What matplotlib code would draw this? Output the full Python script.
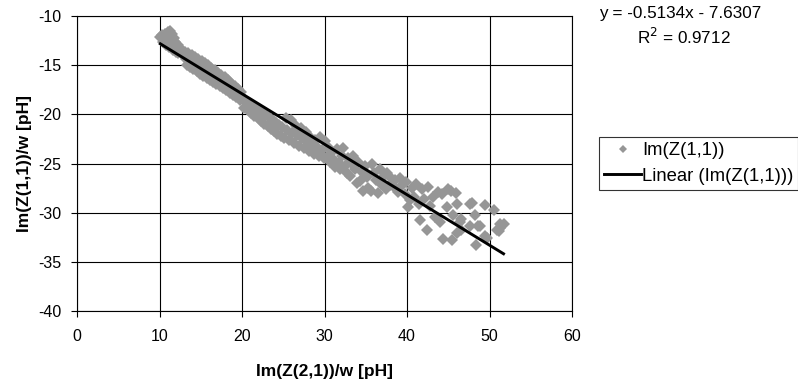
import matplotlib.pyplot as plt
from matplotlib.lines import Line2D
import numpy as np

plt.rcParams['font.family'] = ['Liberation Sans', 'DejaVu Sans']
plt.rcParams['axes.unicode_minus'] = False

# Im(Z(2,1))/w and Im(Z(1,1))/w
x = [10.1, 10.3, 10.4, 10.6, 10.7, 10.8, 10.9, 11.0, 11.1, 11.2, 11.3, 11.4, 11.5, 11.6, 11.7, 11.8, 11.9,
     12.0, 12.2, 12.3, 12.5, 12.7, 12.9,
     13.1, 13.3, 13.5, 13.7, 13.9, 14.1, 14.3, 14.5, 14.7, 14.9, 15.1, 15.3, 15.5, 15.7, 15.9, 16.1, 16.3,
     16.5, 16.7, 16.9, 17.1, 17.3, 17.5, 17.7, 17.9, 18.1, 18.3, 18.5, 18.7, 18.9, 19.1, 19.3, 19.5, 19.7, 19.9,
     13.2, 14.0, 14.8, 15.6, 16.4, 17.2, 18.0, 18.8, 19.6,
     20.1, 20.3, 20.5, 20.7, 20.9, 21.1, 21.3, 21.5, 21.7, 21.9, 22.1, 22.3, 22.5, 22.7, 22.9, 23.1, 23.3,
     23.5, 23.7, 23.9, 24.1, 24.3, 24.5, 24.7, 24.9, 25.1, 25.3, 25.5, 25.7, 25.9, 26.1, 26.3, 26.5, 26.7,
     26.9, 27.1, 27.3, 27.5, 27.7, 27.9, 28.1, 28.3, 28.5, 28.7, 28.9, 29.1, 29.3, 29.5, 29.7, 29.9,
     30.1, 30.3, 30.5, 30.7, 30.9, 31.1, 31.3, 31.5, 31.7, 31.9, 32.1, 32.3, 32.5, 32.7, 32.9, 33.1, 33.3,
     33.5, 33.7, 33.9, 34.1, 34.3, 34.5, 34.7, 34.9, 35.1, 35.3, 35.6, 35.8, 36.0, 36.2, 36.5, 36.7, 36.9,
     37.2, 37.4, 37.6, 37.9, 38.1, 38.4, 38.6, 38.9, 39.1, 39.4, 39.7, 39.9,
     40.1, 40.4, 40.6, 40.9, 41.1, 41.4, 41.6, 41.8, 42.1, 42.4, 42.5, 42.8, 43.1, 43.4, 43.8, 44.0, 44.3,
     44.4, 44.8, 45.0, 45.3, 45.4, 45.6, 45.9, 46.1, 46.4, 46.6, 46.1, 46.6, 47.6, 47.9, 47.6, 48.2, 48.4,
     48.6, 48.8, 49.5, 49.5, 49.7, 50.5, 50.9, 51.1, 51.3, 51.7, 51.3]
y = [-12.1, -11.9, -12.6, -12.3, -11.8, -12.9, -12.2, -11.6, -13.1, -12.4, -11.5, -12.8, -11.8, -13.4, -12.2,
     -13.0, -12.6, -13.6, -12.9, -13.8, -13.3, -13.9, -13.5,
     -13.6, -15.0, -13.8, -15.2, -14.0, -15.4, -14.2, -15.6, -14.4, -15.9, -14.6, -16.1, -14.8, -16.3, -15.0,
     -16.5, -15.3, -16.7, -15.5, -16.9, -15.8, -17.1, -16.0, -17.3, -16.2, -17.5, -16.5, -17.8, -16.8, -18.0,
     -17.1, -18.2, -17.4, -18.5, -17.7,
     -14.4, -14.8, -15.2, -15.6, -16.1, -16.5, -16.9, -17.4, -18.0,
     -18.3, -19.3, -18.7, -19.6, -18.9, -19.9, -19.2, -20.2, -19.3, -20.4, -19.6, -20.7, -19.9, -21.0, -20.1,
     -21.2, -20.3, -21.5, -20.6, -21.7, -20.9, -22.0, -21.1, -22.2, -21.3, -22.4, -20.4, -21.6, -22.6, -20.6,
     -21.9, -22.9, -21.2, -22.1, -23.2, -21.4, -22.4, -23.4, -21.8, -22.7, -23.7, -22.3, -23.0, -24.0, -22.6,
     -23.3, -24.2, -22.3, -23.6, -24.4,
     -22.7, -24.3, -23.4, -24.8, -23.8, -24.6, -25.3, -23.5, -24.9, -25.6, -24.2, -23.4, -25.2, -26.0, -24.4,
     -26.3, -25.0, -24.2, -25.6, -27.0, -24.8, -26.8, -25.9, -27.8, -25.2, -26.4, -27.5, -27.8, -25.0, -26.0,
     -26.7, -28.0, -25.6, -27.1, -26.3, -27.6, -26.0, -27.2, -26.5, -27.4, -26.7, -27.9, -26.5, -27.2, -28.1,
     -26.9,
     -29.4, -28.7, -27.5, -28.4, -27.1, -29.1, -30.7, -27.6, -28.6, -31.8, -27.4, -29.3, -28.4, -30.4, -27.9,
     -30.9, -28.1, -32.7, -29.4, -27.6, -27.8, -32.8, -30.2, -28.0, -29.1, -30.9, -30.6, -32.1, -31.8, -29.1,
     -29.0, -31.4, -30.2, -33.3, -31.4, -31.3, -29.2, -32.4, -32.6, -29.7, -31.8, -31.9, -31.1, -31.1, -31.6]

# linear trendline as reported on the chart
slope = -0.5134
intercept = -7.6307
r2 = 0.9712

fig = plt.figure(figsize=(7.98, 3.84), dpi=100)
ax = fig.add_axes([0.0965, 0.19, 0.6203, 0.768])

ax.grid(True, color='black', linewidth=0.8)
ax.set_axisbelow(True)
ax.plot(x, y, linestyle='none', marker='D', markersize=6.2, color='#969696', markeredgewidth=0)
xl = np.array([min(x), max(x)])
ax.plot(xl, slope * xl + intercept, color='black', linewidth=2.1)

ax.set_xlim(0, 60)
ax.set_ylim(-40, -10)
ax.set_xticks(range(0, 61, 10))
ax.set_yticks(range(-40, -9, 5))
for s in ax.spines.values():
    s.set_color('black')
    s.set_linewidth(0.8)
ax.tick_params(direction='out', length=4, width=0.8, labelsize=11.5, color='black')
ax.tick_params(axis='x', pad=9)
ax.tick_params(axis='y', pad=7)
ax.set_xlabel('Im(Z(2,1))/w [pH]', fontsize=12.5, fontweight='bold', labelpad=14.5)
ax.set_ylabel('Im(Z(1,1))/w [pH]', fontsize=12.5, fontweight='bold', labelpad=5)

fig.text(0.751, 0.965, 'y = %.4fx - %.4f' % (slope, -intercept), fontsize=12.3, va='center', ha='left')
fig.text(0.798, 0.903, 'R$^2$ = %.4f' % r2, fontsize=12.3, va='center', ha='left')

handles = [Line2D([], [], linestyle='none', marker='D', markersize=4.5, color='#969696', markeredgewidth=0),
           Line2D([], [], color='black', linewidth=2.1)]
leg = fig.legend(handles, ['Im(Z(1,1))', 'Linear (Im(Z(1,1)))'], loc='upper left',
                 bbox_to_anchor=(0.7505, 0.643), fontsize=13.3, frameon=True, fancybox=False,
                 handlelength=2.0, handletextpad=0.05, borderpad=0.28, labelspacing=0.45,
                 borderaxespad=0)
leg.get_frame().set_edgecolor('black')
leg.get_frame().set_linewidth(0.8)

fig.savefig('out.png', dpi=100)
